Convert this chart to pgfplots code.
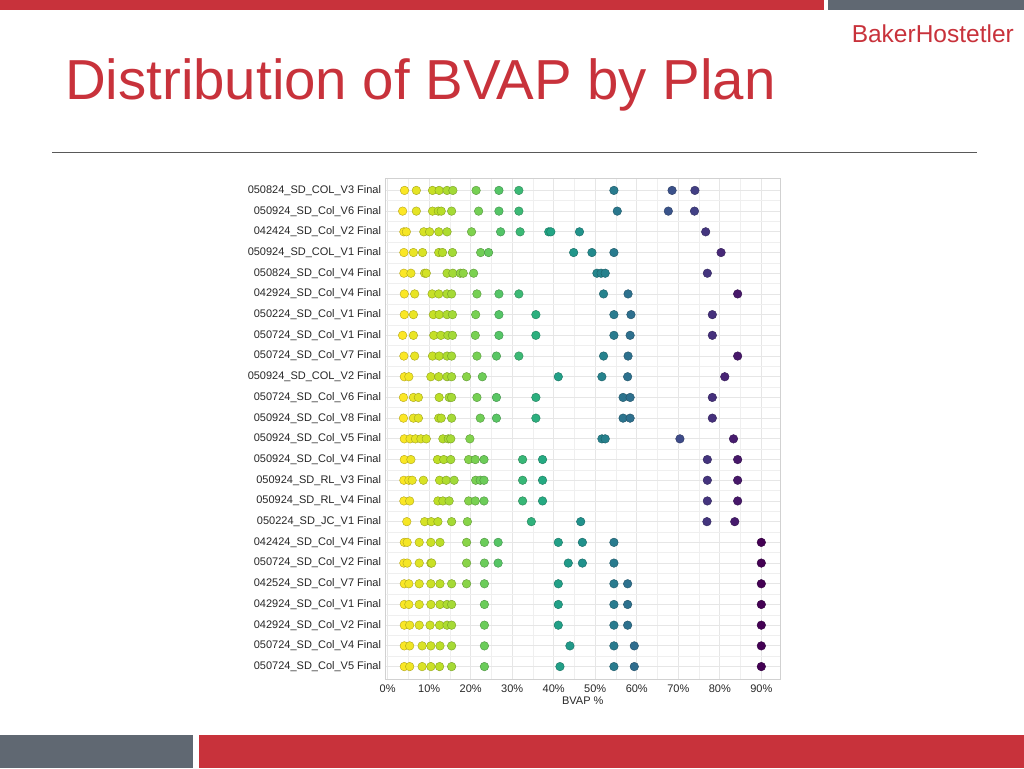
\documentclass[border=0pt]{standalone}
\usepackage{pgfplots}
\pgfplotsset{compat=1.18}
\usepackage{fontspec}
\setmainfont{Liberation Sans}
\definecolor{bhred}{HTML}{C8323B}
\definecolor{bhgray}{HTML}{606872}
\definecolor{gridc}{HTML}{E6E6E6}
\begin{document}
\begin{tikzpicture}
\useasboundingbox (0pt,0pt) rectangle (1024pt,768pt);
% slide frame
\fill[bhred] (0pt,768pt) rectangle (824pt,758pt);
\fill[bhgray] (828pt,768pt) rectangle (1024pt,758pt);
\fill[bhgray] (0pt,0pt) rectangle (193pt,33pt);
\fill[bhred] (199pt,0pt) rectangle (1024pt,33pt);
\node[anchor=base east, inner sep=0, text=bhred, font=\fontsize{24.5}{24}\selectfont] at (1014pt,725pt) {BakerHostetler};
\node[anchor=base west, inner sep=0, text=bhred, font=\fontsize{56.4}{56}\selectfont] at (65pt,668pt) {Distribution of BVAP by Plan};
\draw[black!65, line width=1pt] (52pt,615pt) -- (977pt,615pt);
%% dot plot
\begin{axis}[at={(385.6pt,89pt)}, anchor=south west, scale only axis,
    width=394.4pt, height=501pt,
    xmin=-0.5, xmax=94.5, ymin=-0.6, ymax=23.6, y dir=reverse,
    xtick={0,10,...,90}, minor xtick={5,15,...,85},
    xticklabels={0\%,10\%,20\%,30\%,40\%,50\%,60\%,70\%,80\%,90\%},
    ytick={0,...,23}, minor ytick={0.5,1.5,...,22.5},
    yticklabels={050824\_SD\_COL\_V3 Final,050924\_SD\_Col\_V6 Final,042424\_SD\_Col\_V2 Final,
      050924\_SD\_COL\_V1 Final,050824\_SD\_Col\_V4 Final,042924\_SD\_Col\_V4 Final,
      050224\_SD\_Col\_V1 Final,050724\_SD\_Col\_V1 Final,050724\_SD\_Col\_V7 Final,
      050924\_SD\_COL\_V2 Final,050724\_SD\_Col\_V6 Final,050924\_SD\_Col\_V8 Final,
      050924\_SD\_Col\_V5 Final,050924\_SD\_Col\_V4 Final,050924\_SD\_RL\_V3 Final,
      050924\_SD\_RL\_V4 Final,050224\_SD\_JC\_V1 Final,042424\_SD\_Col\_V4 Final,
      050724\_SD\_Col\_V2 Final,042524\_SD\_Col\_V7 Final,042924\_SD\_Col\_V1 Final,
      042924\_SD\_Col\_V2 Final,050724\_SD\_Col\_V4 Final,050724\_SD\_Col\_V5 Final},
    grid=both, major grid style={gridc, line width=0.8pt}, minor grid style={gridc!65, line width=0.6pt},
    axis line style={black!18}, tick style={draw=none},
    tick label style={font=\fontsize{11}{12}\selectfont, text=black!85},
    xticklabel style={yshift=-2pt}, yticklabel style={xshift=-1pt},
    xlabel={BVAP \%}, xlabel style={font=\fontsize{11}{12}\selectfont, text=black!85, yshift=2pt},
    colormap={viridisr}{rgb255=(253,231,37) rgb255=(189,223,38) rgb255=(122,209,81)
      rgb255=(68,191,112) rgb255=(34,168,132) rgb255=(33,145,140) rgb255=(42,120,142)
      rgb255=(53,95,141) rgb255=(65,68,135) rgb255=(72,36,117) rgb255=(68,1,84)},
    point meta min=3.6, point meta max=90]
  \addplot[scatter, only marks, mark=*, mark size=4.3pt, point meta=x,
    scatter/use mapped color={draw=mapped color!72!black, fill=mapped color},
    scatter/@pre marker code/.append style={/tikz/line width=0.6pt}]
  coordinates {
    (4.05,0) (6.9,0) (10.8,0) (12.4,0) (14.3,0) (15.7,0) (21.3,0) (26.8,0) (31.6,0) (54.5,0) (68.5,0) (74.0,0)
    (3.6,1) (6.9,1) (10.8,1) (12.2,1) (12.9,1) (15.4,1) (21.9,1) (26.8,1) (31.6,1) (55.3,1) (67.6,1) (73.9,1)
    (3.9,2) (4.5,2) (8.7,2) (10.1,2) (12.3,2) (14.3,2) (20.2,2) (27.2,2) (31.9,2) (38.8,2) (39.3,2) (46.2,2) (76.6,2)
    (3.9,3) (6.2,3) (8.4,3) (12.3,3) (13.2,3) (15.6,3) (22.4,3) (24.3,3) (44.8,3) (49.2,3) (54.5,3) (80.3,3)
    (3.9,4) (5.6,4) (8.9,4) (9.3,4) (14.3,4) (15.7,4) (17.5,4) (18.2,4) (20.7,4) (50.4,4) (51.4,4) (52.4,4) (77.0,4)
    (4.0,5) (6.5,5) (10.7,5) (12.3,5) (14.3,5) (15.4,5) (21.5,5) (26.8,5) (31.6,5) (52.0,5) (57.9,5) (84.3,5)
    (4.0,6) (6.2,6) (11.0,6) (12.4,6) (14.3,6) (15.6,6) (21.2,6) (26.8,6) (35.7,6) (54.5,6) (58.6,6) (78.2,6)
    (3.6,7) (6.2,7) (11.1,7) (12.8,7) (14.5,7) (15.6,7) (21.1,7) (26.8,7) (35.7,7) (54.5,7) (58.4,7) (78.2,7)
    (3.9,8) (6.5,8) (10.8,8) (12.4,8) (14.3,8) (15.4,8) (21.5,8) (26.2,8) (31.6,8) (52.0,8) (57.9,8) (84.3,8)
    (4.0,9) (5.1,9) (10.4,9) (12.3,9) (14.3,9) (15.4,9) (19.0,9) (22.8,9) (41.1,9) (51.6,9) (57.8,9) (81.2,9)
    (3.8,10) (6.2,10) (7.4,10) (12.4,10) (14.8,10) (15.4,10) (21.5,10) (26.2,10) (35.7,10) (56.7,10) (58.4,10) (78.2,10)
    (3.8,11) (6.2,11) (7.4,11) (12.3,11) (12.9,11) (15.4,11) (22.3,11) (26.2,11) (35.7,11) (56.7,11) (58.4,11) (78.2,11)
    (4.0,12) (5.4,12) (6.7,12) (8.0,12) (9.3,12) (13.3,12) (14.6,12) (15.2,12) (19.8,12) (51.6,12) (52.4,12) (70.4,12) (83.3,12)
    (4.0,13) (5.6,13) (12.0,13) (13.5,13) (15.2,13) (19.5,13) (21.1,13) (23.2,13) (32.5,13) (37.3,13) (77.0,13) (84.3,13)
    (3.9,14) (5.1,14) (5.9,14) (8.6,14) (12.5,14) (14.1,14) (16.0,14) (21.2,14) (22.3,14) (23.2,14) (32.5,14) (37.3,14) (77.0,14) (84.3,14)
    (3.9,15) (5.3,15) (12.1,15) (13.3,15) (14.8,15) (19.5,15) (21.1,15) (23.2,15) (32.5,15) (37.3,15) (77.0,15) (84.3,15)
    (4.6,16) (8.9,16) (10.5,16) (12.1,16) (15.4,16) (19.2,16) (34.6,16) (46.5,16) (76.9,16) (83.6,16)
    (4.0,17) (4.7,17) (7.6,17) (10.4,17) (12.6,17) (19.0,17) (23.3,17) (26.6,17) (41.1,17) (46.9,17) (54.5,17) (90.0,17)
    (3.9,18) (4.7,18) (7.6,18) (10.4,18) (10.6,18) (19.0,18) (23.3,18) (26.6,18) (43.5,18) (46.9,18) (54.5,18) (90.0,18)
    (4.0,19) (5.1,19) (7.6,19) (10.4,19) (12.6,19) (15.4,19) (19.0,19) (23.3,19) (41.1,19) (54.5,19) (57.8,19) (90.0,19)
    (4.0,20) (5.1,20) (7.6,20) (10.4,20) (12.6,20) (14.3,20) (15.4,20) (23.3,20) (41.1,20) (54.5,20) (57.8,20) (90.0,20)
    (4.0,21) (5.3,21) (7.6,21) (10.2,21) (12.5,21) (14.3,21) (15.4,21) (23.3,21) (41.1,21) (54.5,21) (57.8,21) (90.0,21)
    (4.0,22) (5.3,22) (8.3,22) (10.4,22) (12.6,22) (15.4,22) (23.3,22) (43.9,22) (54.5,22) (59.4,22) (90.0,22)
    (4.0,23) (5.3,23) (8.3,23) (10.4,23) (12.5,23) (15.4,23) (23.3,23) (41.5,23) (54.5,23) (59.4,23) (90.0,23)
  };
\end{axis}
\end{tikzpicture}
\end{document}
